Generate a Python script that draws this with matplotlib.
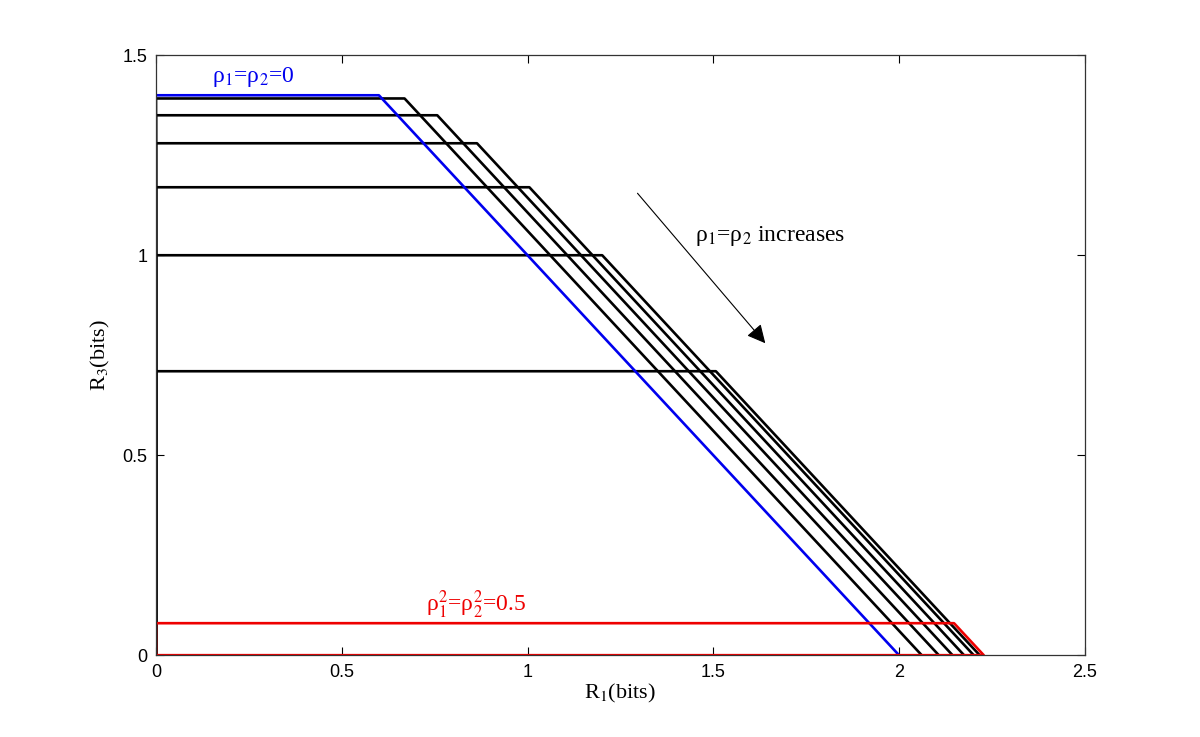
import numpy as np
import matplotlib.pyplot as plt

plt.rcParams['mathtext.fontset'] = 'stix'

# corner R1 and height R3 of each rate region boundary
blue_corner, blue_height = 0.60, 1.40
black_corners = [0.669, 0.757, 0.864, 1.005, 1.201, 1.507]
black_heights = [1.392, 1.350, 1.280, 1.170, 1.000, 0.710]
red_corner, red_height = 2.148, 0.08

xticks = [0, 0.5, 1, 1.5, 2, 2.5]
yticks = [0, 0.5, 1, 1.5]

fig = plt.figure(figsize=(12, 7.37), dpi=100)
ax = fig.add_axes([0.13, 0.111, 0.774, 0.814])

for a, h in zip(black_corners, black_heights):
    ax.plot([0, 0, a, a + h], [0, h, h, 0], color='black', lw=1.9)

ax.plot([0, blue_corner, blue_corner + blue_height], [blue_height, blue_height, 0],
        color='#0000ee', lw=1.9)

ax.plot([0, 0, red_corner, red_corner + red_height, 0],
        [0, red_height, red_height, 0, 0], color='#ee0000', lw=1.9)

serif = 'Liberation Serif'
ax.text(0.15, 1.432, 'ρ$_1$=ρ$_2$=0', color='#0000ee', fontsize=17, family=serif)
ax.text(0.728, 0.11, 'ρ$_1^2$=ρ$_2^2$=0.5', color='#ee0000', fontsize=17, family=serif)
ax.text(1.45, 1.035, 'ρ$_1$=ρ$_2$ increases', color='black', fontsize=17, family=serif)
ax.annotate('', xy=(1.64, 0.78), xytext=(1.296, 1.155),
            arrowprops=dict(arrowstyle='-|>', color='black', lw=0.8,
                            mutation_scale=28, shrinkA=0, shrinkB=0))

ax.set_xlim(0, 2.5)
ax.set_ylim(0, 1.5)
ax.set_xticks(xticks)
ax.set_yticks(yticks)
ax.set_xticklabels([f'{t:g}' for t in xticks], family='Liberation Sans', fontsize=13)
ax.set_yticklabels([f'{t:g}' for t in yticks], family='Liberation Sans', fontsize=13)
ax.tick_params(direction='in', top=True, right=True, length=6, width=0.8, pad=6)
for s in ax.spines.values():
    s.set_color('#333333')
    s.set_linewidth(0.9)

ax.set_xlabel('R$_1$(bits)', family=serif, fontsize=16, labelpad=1)
ax.set_ylabel('R$_3$(bits)', family=serif, fontsize=16, labelpad=8)

fig.savefig('out.png', dpi=100)
